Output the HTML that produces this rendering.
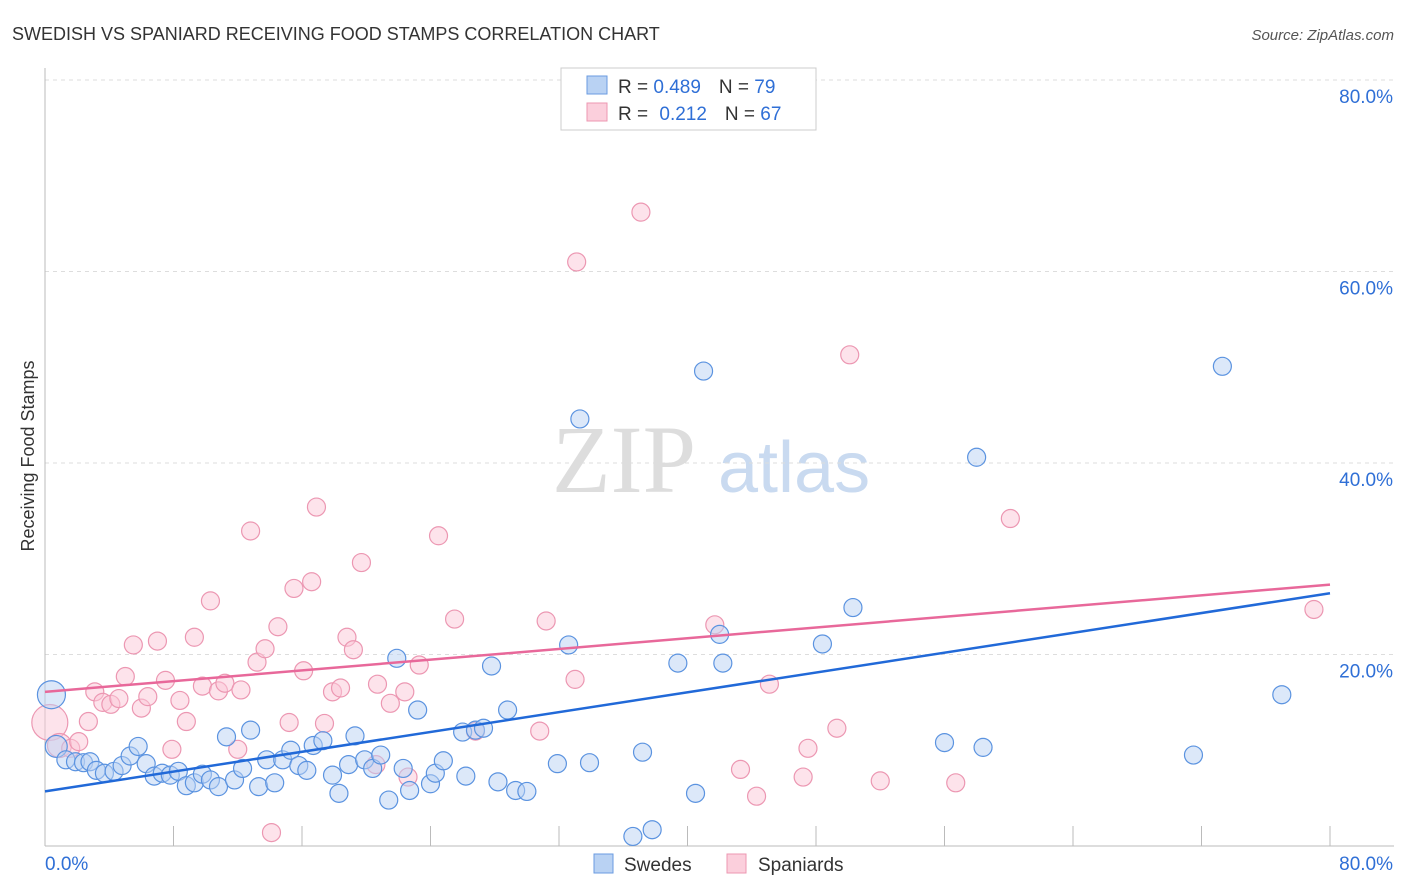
<!DOCTYPE html>
<html><head><meta charset="utf-8">
<style>
body{margin:0;background:#fff;font-family:"Liberation Sans",sans-serif;}
svg{display:block}
</style></head><body>
<svg id="chart" width="1406" height="892" xmlns="http://www.w3.org/2000/svg">
<text x="12" y="40" font-size="18" fill="#333">SWEDISH VS SPANIARD RECEIVING FOOD STAMPS CORRELATION CHART</text>
<text x="1394" y="40" font-size="15" fill="#555" font-style="italic" text-anchor="end">Source: ZipAtlas.com</text>
<text transform="translate(34,456) rotate(-90)" font-size="18" fill="#333" text-anchor="middle">Receiving Food Stamps</text>
<g>
<text x="552" y="492" font-family="Liberation Serif,serif" font-size="96" fill="#ddd">ZIP</text>
<text x="718" y="492" font-size="72" fill="#c9daf0">atlas</text>
</g>
<g id="grid"></g>
<g id="axes"></g>
<g id="pts"></g>
<g id="trends"></g>
<g>
<rect x="561" y="68" width="255" height="62" fill="#fff" stroke="#ccc"/>
<rect x="587" y="76" width="20" height="18" fill="#b9d2f3" stroke="#6a9be0"/>
<rect x="587" y="103" width="20" height="18" fill="#fbcfdc" stroke="#ec97b2"/>
<text x="618" y="93" font-size="19" fill="#333">R = <tspan fill="#2f6fd6">0.489</tspan><tspan dx="18">N = </tspan><tspan fill="#2f6fd6">79</tspan></text>
<text x="618" y="120" font-size="19" fill="#333">R = <tspan fill="#2f6fd6" dx="6">0.212</tspan><tspan dx="18">N = </tspan><tspan fill="#2f6fd6">67</tspan></text>
</g>
<g>
<rect x="594" y="854" width="19" height="19" fill="#b9d2f3" stroke="#6a9be0"/>
<text x="624" y="871" font-size="19" fill="#333">Swedes</text>
<rect x="727" y="854" width="19" height="19" fill="#fbcfdc" stroke="#ec97b2"/>
<text x="758" y="871" font-size="19" fill="#333">Spaniards</text>
</g>
</svg>
<script>
const xTicks=[8,16,24,32,40,48,56,64,72,80];
const yTicks=[20,40,60,80];
const blueX=[0.4,0.7,1.3,1.9,2.4,2.8,3.2,3.7,4.3,4.8,5.3,5.8,6.3,6.8,7.3,7.8,8.3,8.8,9.3,9.8,10.3,10.8,11.3,11.8,12.3,12.8,13.3,13.8,14.3,14.8,15.3,15.8,16.3,16.7,17.3,17.9,18.3,18.9,19.3,19.9,20.4,20.9,21.4,21.9,22.3,22.7,23.2,24.0,24.3,24.8,26.0,26.2,26.8,27.3,27.8,28.2,28.8,29.3,30.0,31.9,32.6,33.3,33.9,36.6,37.2,37.8,39.4,40.5,41.0,42.0,42.2,48.4,50.3,56.0,58.0,58.4,71.5,73.3,77.0];
const blueY=[15.8,10.4,9.0,8.8,8.7,8.8,7.9,7.6,7.8,8.4,9.4,10.4,8.6,7.3,7.6,7.4,7.8,6.3,6.6,7.5,6.9,6.2,11.4,6.9,8.1,12.1,6.2,9.0,6.6,9.0,10.0,8.4,7.9,10.5,11.0,7.4,5.5,8.5,11.5,9.0,8.1,9.5,4.8,19.6,8.1,5.8,14.2,6.5,7.6,8.9,11.9,7.3,12.1,12.3,18.8,6.7,14.2,5.8,5.7,8.6,21.0,44.6,8.7,1.0,9.8,1.7,19.1,5.5,49.6,22.1,19.1,21.1,24.9,10.8,40.6,10.3,9.5,50.1,15.8];
const pinkX=[0.3,0.9,1.6,2.1,2.7,3.1,3.6,4.1,4.6,5.0,5.5,6.0,6.4,7.0,7.5,7.9,8.4,8.8,9.3,9.8,10.3,10.8,11.2,12.0,12.2,12.8,13.2,13.7,14.5,15.2,15.5,16.1,16.6,16.9,17.4,17.9,18.4,18.8,19.2,19.7,20.6,20.7,21.5,22.4,22.6,23.3,24.5,25.5,26.8,30.8,31.2,33.0,33.1,37.1,41.7,43.3,44.3,45.1,47.2,47.5,49.3,50.1,52.0,56.7,60.1,79.0,14.1];
const pinkY=[12.9,10.5,10.2,10.9,13.0,16.1,15.0,14.8,15.4,17.7,21.0,14.4,15.6,21.4,17.3,10.1,15.2,13.0,21.8,16.7,25.6,16.2,17.0,10.1,16.3,32.9,19.2,20.6,22.9,12.9,26.9,18.3,27.6,35.4,12.8,16.1,16.5,21.8,20.5,29.6,8.5,16.9,14.9,16.1,7.2,18.9,32.4,23.7,12.0,12.0,23.5,17.4,61.0,66.2,23.1,8.0,5.2,16.9,7.2,10.2,12.3,51.3,6.8,6.6,34.2,24.7,1.4];
const blueTrend=[5.7,26.4];
const pinkTrend=[16.1,27.3];
const X0=45,X1=1330,Y0=846,Y80=80;
const sx=v=>X0+(X1-X0)*v/80;
const sy=v=>Y0-(Y0-Y80)*v/80;
const NS='http://www.w3.org/2000/svg';
function mk(tag,attrs,parent){const e=document.createElementNS(NS,tag);for(const k in attrs)e.setAttribute(k,attrs[k]);document.getElementById(parent).appendChild(e);return e;}
yTicks.forEach(t=>{
 const l=mk('line',{x1:X0,x2:1394,y1:sy(t),y2:sy(t),stroke:'#ddd','stroke-dasharray':'4,4'},'grid');
 
 
 const tx=mk('text',{x:1393,y:sy(t)+23,'font-size':19,fill:'#2f6fd6','text-anchor':'end'},'grid');
 tx.textContent=t+'.0%';
 
 
});
const ya=mk('line',{x1:X0,x2:X0,y1:68,y2:Y0,stroke:'#bbb'},'axes');


const xa=mk('line',{x1:X0,x2:1394,y1:Y0,y2:Y0,stroke:'#bbb'},'axes');


xTicks.forEach(v=>{
 const t=mk('line',{x1:sx(v),x2:sx(v),y1:826,y2:Y0,stroke:'#bbb'},'axes');
 
 
});
[[0,'start',45],[80,'end',1393]].forEach(([v,a,x])=>{
 const tx=mk('text',{x:x,y:870,'font-size':19,fill:'#2f6fd6','text-anchor':a},'axes');
 tx.textContent=v+'.0%';
 
 
});
function drawPts(xs,ys,fill,stroke,big,name){
 xs.forEach((x,i)=>{const r=big[i]||9;
  const c=mk('circle',{cx:sx(x),cy:sy(ys[i]),r:r,fill:fill,'fill-opacity':0.5,stroke:stroke,'stroke-width':1.2},'pts');
  
  
 });
}
drawPts(pinkX,pinkY,'#fbc8d8','#ec97b2',{0:18,1:12},'spaniard-point');
drawPts(blueX,blueY,'#b9d2f3','#5b93e0',{0:14,1:11},'swede-point');
const bl=mk('line',{x1:sx(0),y1:sy(blueTrend[0]),x2:sx(80),y2:sy(blueTrend[1]),stroke:'#2169d8','stroke-width':2.5},'trends');


const pl=mk('line',{x1:sx(0),y1:sy(pinkTrend[0]),x2:sx(80),y2:sy(pinkTrend[1]),stroke:'#e8689a','stroke-width':2.5},'trends');


</script>
</body></html>
